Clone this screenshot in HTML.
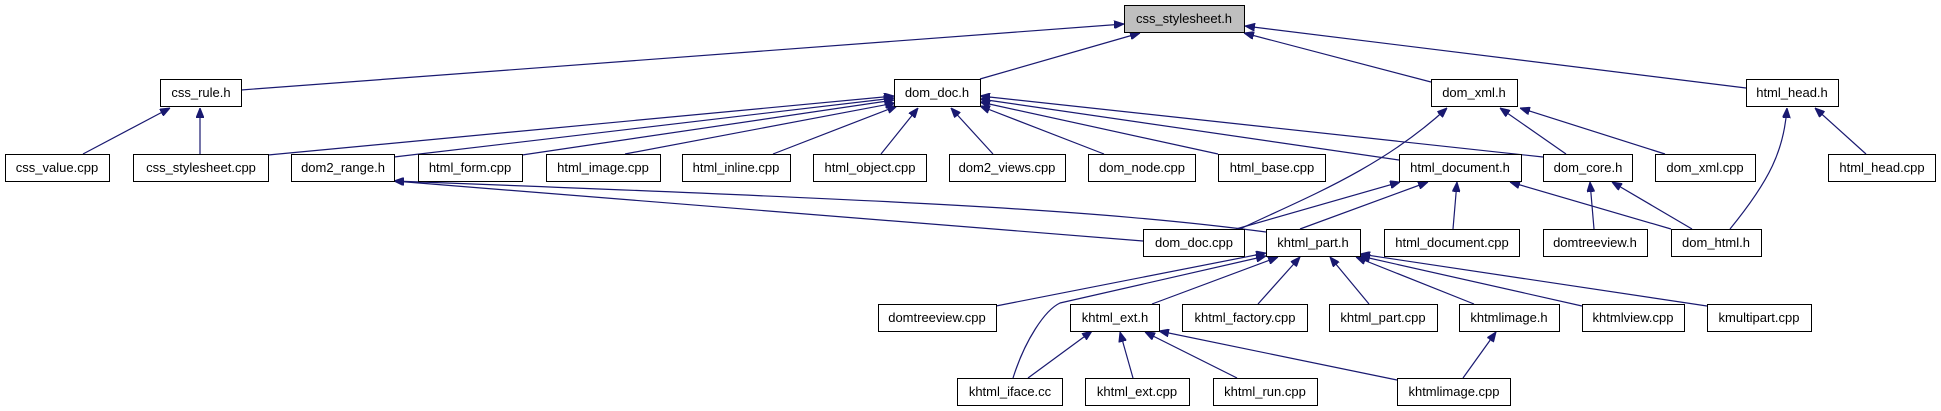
<!DOCTYPE html>
<html><head><meta charset="utf-8"><style>
html,body{margin:0;padding:0;background:#fff;}
svg{display:block;}
text{font-family:"Liberation Sans",Arial,sans-serif;font-size:13px;fill:#000;}
rect{fill:#fff;stroke:#000;stroke-width:1;}
path,line{stroke:#191970;stroke-width:1.2;fill:none;}
</style></head><body>
<svg width="1941" height="411" viewBox="0 0 1941 411" xmlns="http://www.w3.org/2000/svg">
<defs>
<marker id="a" markerWidth="10" markerHeight="8" refX="10" refY="4" orient="auto" markerUnits="userSpaceOnUse">
<path d="M0,0 L10,4 L0,8 Z" style="fill:#191970;stroke:#191970;stroke-width:1"/>
</marker>
</defs>
<g marker-end="url(#a)">
<!-- to css_stylesheet.h -->
<path d="M241,90 L1124,24"/>
<path d="M980,79 L1140,33"/>
<path d="M1431,82 L1244,33"/>
<path d="M1746,88 L1245,26"/>
<!-- to css_rule.h -->
<path d="M83,154 L170,108"/>
<path d="M200,154 L200,108"/>
<!-- to dom_doc.h -->
<path d="M268,155 L894,96"/>
<path d="M394,157 L894,98"/>
<path d="M522,155 L894,100"/>
<path d="M625,154 L895,103"/>
<path d="M773,154 L897,106"/>
<path d="M881,154 L918,108"/>
<path d="M993,154 L951,108"/>
<path d="M1104,154 L980,106"/>
<path d="M1218,154 L980,102"/>
<path d="M1399,160 L980,99"/>
<path d="M1543,157 L980,96"/>
<!-- to dom_xml.h -->
<path d="M1240,229 C1300,200 1380,170 1447,108"/>
<path d="M1566,154 L1500,108"/>
<path d="M1665,154 L1520,108"/>
<!-- to html_head.h -->
<path d="M1730,229 C1770,180 1784,150 1787,108"/>
<path d="M1866,154 L1815,108"/>
<!-- to dom2_range.h -->
<path d="M1143,241 L394,181"/>
<path d="M1266,232 C1100,210 900,200 394,181"/>
<!-- to html_document.h -->
<path d="M1236,229 L1400,182"/>
<path d="M1300,229 L1428,182"/>
<path d="M1453,229 L1457,182"/>
<path d="M1671,229 L1510,182"/>
<!-- to dom_core.h -->
<path d="M1594,229 L1590,182"/>
<path d="M1692,229 L1612,182"/>
<!-- to khtml_part.h -->
<path d="M996,306 L1266,253"/>
<path d="M1013,378 C1025,340 1045,310 1060,303 L1266,256"/>
<path d="M1152,304 L1278,257"/>
<path d="M1258,304 L1300,257"/>
<path d="M1369,304 L1330,257"/>
<path d="M1474,304 L1356,257"/>
<path d="M1582,306 L1360,256"/>
<path d="M1707,306 L1360,254"/>
<!-- to khtml_ext.h -->
<path d="M1028,378 L1092,331"/>
<path d="M1133,378 L1120,332"/>
<path d="M1237,378 L1145,332"/>
<path d="M1397,380 L1159,331"/>
<!-- to khtmlimage.h -->
<path d="M1463,378 L1496,332"/>
</g>
<g>
<rect x="1124.5" y="5.5" width="120" height="27" style="fill:#bfbfbf"/><text x="1184" y="23" text-anchor="middle">css_stylesheet.h</text>
<rect x="160.5" y="79.5" width="81" height="27"/><text x="201" y="97" text-anchor="middle">css_rule.h</text>
<rect x="894.5" y="79.5" width="86" height="27"/><text x="937" y="97" text-anchor="middle">dom_doc.h</text>
<rect x="1431.5" y="79.5" width="86" height="27"/><text x="1474" y="97" text-anchor="middle">dom_xml.h</text>
<rect x="1746.5" y="79.5" width="92" height="27"/><text x="1792" y="97" text-anchor="middle">html_head.h</text>

<rect x="5.5" y="154.5" width="104" height="27"/><text x="57" y="172" text-anchor="middle">css_value.cpp</text>
<rect x="133.5" y="154.5" width="135" height="27"/><text x="201" y="172" text-anchor="middle">css_stylesheet.cpp</text>
<rect x="291.5" y="154.5" width="103" height="27"/><text x="343" y="172" text-anchor="middle">dom2_range.h</text>
<rect x="418.5" y="154.5" width="104" height="27"/><text x="470" y="172" text-anchor="middle">html_form.cpp</text>
<rect x="546.5" y="154.5" width="114" height="27"/><text x="603" y="172" text-anchor="middle">html_image.cpp</text>
<rect x="682.5" y="154.5" width="108" height="27"/><text x="736" y="172" text-anchor="middle">html_inline.cpp</text>
<rect x="813.5" y="154.5" width="113" height="27"/><text x="870" y="172" text-anchor="middle">html_object.cpp</text>
<rect x="949.5" y="154.5" width="116" height="27"/><text x="1007" y="172" text-anchor="middle">dom2_views.cpp</text>
<rect x="1088.5" y="154.5" width="107" height="27"/><text x="1142" y="172" text-anchor="middle">dom_node.cpp</text>
<rect x="1218.5" y="154.5" width="107" height="27"/><text x="1272" y="172" text-anchor="middle">html_base.cpp</text>
<rect x="1399.5" y="154.5" width="122" height="27"/><text x="1460" y="172" text-anchor="middle">html_document.h</text>
<rect x="1543.5" y="154.5" width="89" height="27"/><text x="1588" y="172" text-anchor="middle">dom_core.h</text>
<rect x="1655.5" y="154.5" width="100" height="27"/><text x="1705" y="172" text-anchor="middle">dom_xml.cpp</text>
<rect x="1828.5" y="154.5" width="107" height="27"/><text x="1882" y="172" text-anchor="middle">html_head.cpp</text>

<rect x="1143.5" y="229.5" width="101" height="27"/><text x="1194" y="247" text-anchor="middle">dom_doc.cpp</text>
<rect x="1266.5" y="229.5" width="94" height="27"/><text x="1313" y="247" text-anchor="middle">khtml_part.h</text>
<rect x="1384.5" y="229.5" width="135" height="27"/><text x="1452" y="247" text-anchor="middle">html_document.cpp</text>
<rect x="1543.5" y="229.5" width="104" height="27"/><text x="1595" y="247" text-anchor="middle">domtreeview.h</text>
<rect x="1671.5" y="229.5" width="90" height="27"/><text x="1716" y="247" text-anchor="middle">dom_html.h</text>

<rect x="878.5" y="304.5" width="118" height="27"/><text x="937" y="322" text-anchor="middle">domtreeview.cpp</text>
<rect x="1070.5" y="304.5" width="89" height="27"/><text x="1115" y="322" text-anchor="middle">khtml_ext.h</text>
<rect x="1182.5" y="304.5" width="125" height="27"/><text x="1245" y="322" text-anchor="middle">khtml_factory.cpp</text>
<rect x="1329.5" y="304.5" width="108" height="27"/><text x="1383" y="322" text-anchor="middle">khtml_part.cpp</text>
<rect x="1459.5" y="304.5" width="100" height="27"/><text x="1509" y="322" text-anchor="middle">khtmlimage.h</text>
<rect x="1582.5" y="304.5" width="102" height="27"/><text x="1633" y="322" text-anchor="middle">khtmlview.cpp</text>
<rect x="1707.5" y="304.5" width="104" height="27"/><text x="1759" y="322" text-anchor="middle">kmultipart.cpp</text>

<rect x="957.5" y="378.5" width="105" height="27"/><text x="1010" y="396" text-anchor="middle">khtml_iface.cc</text>
<rect x="1085.5" y="378.5" width="104" height="27"/><text x="1137" y="396" text-anchor="middle">khtml_ext.cpp</text>
<rect x="1213.5" y="378.5" width="104" height="27"/><text x="1265" y="396" text-anchor="middle">khtml_run.cpp</text>
<rect x="1397.5" y="378.5" width="113" height="27"/><text x="1454" y="396" text-anchor="middle">khtmlimage.cpp</text>
</g>
</svg>
</body></html>
